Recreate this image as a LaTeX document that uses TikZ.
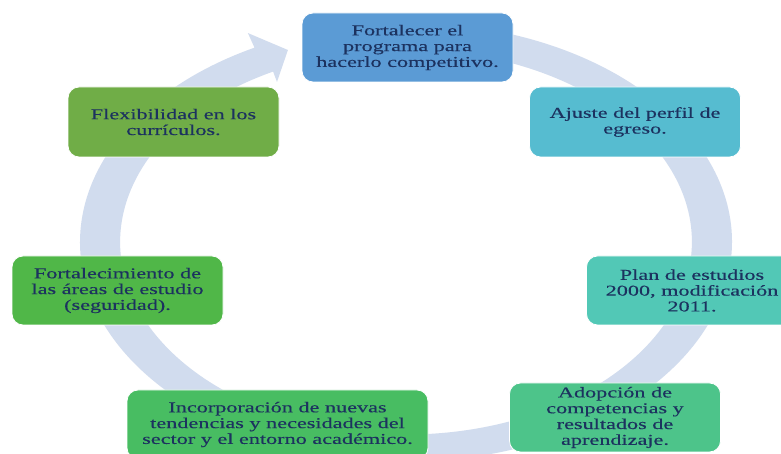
\documentclass[tikz,border=0pt]{standalone}
\usepackage{fontspec}
\setmainfont[FakeStretch=1.48,FakeBold=0.3]{Liberation Serif}
\definecolor{ringc}{RGB}{209,220,238}
\definecolor{cA}{RGB}{91,155,213}
\definecolor{cB}{RGB}{86,188,208}
\definecolor{cC}{RGB}{82,200,182}
\definecolor{cD}{RGB}{77,196,138}
\definecolor{cE}{RGB}{72,189,98}
\definecolor{cF}{RGB}{80,183,72}
\definecolor{cG}{RGB}{112,173,71}
\definecolor{txt}{RGB}{28,50,95}
\tikzset{
  stepbox/.style={rounded corners=11pt, draw=white, line width=0.8pt,
    minimum width=211pt, minimum height=69pt, inner sep=0pt, align=center,
    text=txt, font=\fontsize{15}{15.8}\selectfont},
}
\begin{document}
\begin{tikzpicture}[x=1pt,y=1pt]
\useasboundingbox (0,0) rectangle (781,454);
\fill[white] (0,0) rectangle (781,454);
\begin{scope}[shift={(406,212)}, xscale=1.485]
\fill[ringc] (80:219.5) arc[start angle=80, end angle=-242.3, radius=219.5]
  -- (117.0:234.5) -- (112.5:207.8) -- (118.5:182.1)
  -- (-242.3:192.5) arc[start angle=-242.3, end angle=80, radius=192.5] -- cycle;
\end{scope}
\node[stepbox, fill=cA] (n1) at (407.5,406.5) {Fortalecer el\\programa para\\hacerlo competitivo.};
\node[stepbox, fill=cB, minimum height=70pt] (n2) at (635,332) {Ajuste del perfil de\\egreso.};
\node[stepbox, fill=cC] (n3) at (692,163.5) {Plan de estudios\\2000, modificación\\2011.};
\node[stepbox, fill=cD] (n4) at (615,36.5) {Adopción de\\competencias y\\resultados de\\aprendizaje.};
\node[stepbox, fill=cE, minimum width=301pt] (n5) at (277.5,29.5) {Incorporación de nuevas\\tendencias y necesidades del\\sector y el entorno académico.};
\node[stepbox, fill=cF] (n6) at (117.5,163.5) {Fortalecimiento de\\las áreas de estudio\\(seguridad).};
\node[stepbox, fill=cG, minimum height=70pt] (n7) at (173.5,332) {Flexibilidad en los\\currículos.};
\end{tikzpicture}
\end{document}
